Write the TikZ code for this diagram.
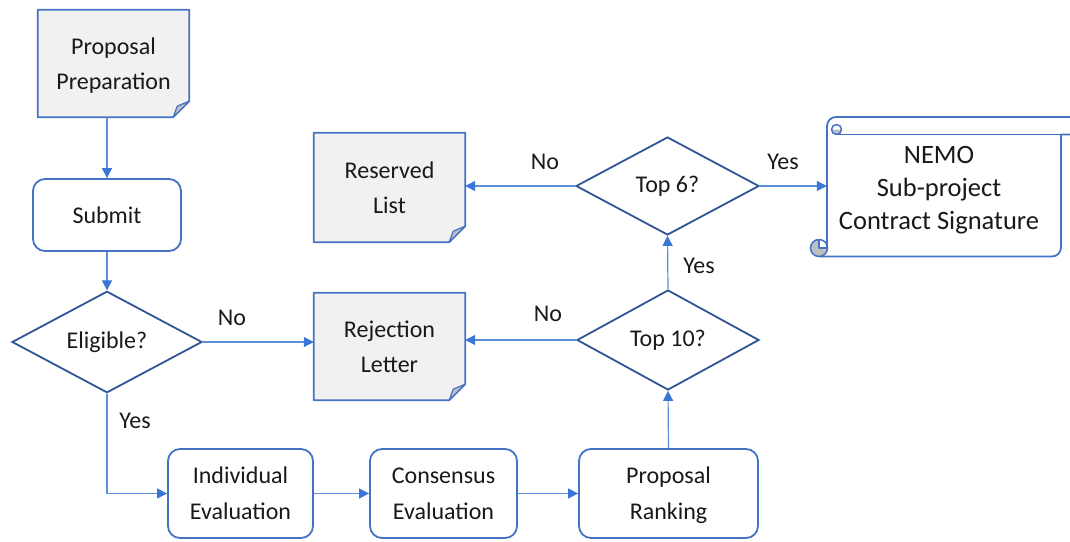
\documentclass[tikz,border=0pt]{standalone}
\usepackage{fontspec}
\setmainfont{Carlito}
\usetikzlibrary{shapes.geometric,arrows.meta}
\pgfdeclarelayer{background}
\pgfsetlayers{background,main}
\definecolor{docline}{HTML}{4472C4}
\definecolor{dialine}{HTML}{2F5597}
\definecolor{connc}{HTML}{5B8EDB}
\definecolor{tipc}{HTML}{3A76D6}
\definecolor{docfill}{HTML}{F1F1F1}
\definecolor{flapc}{HTML}{BFBFBF}
\begin{document}
\begin{tikzpicture}[x=1pt,y=-1pt,
  txt/.style={font=\fontsize{24}{35}\selectfont, align=center, text=black!90},
  twoline/.style={text depth=-2pt},
  lowline/.style={font=\fontsize{24}{36}\selectfont, text depth=-3pt},
  roundbox/.style={txt, draw=docline, line width=1.8pt, rounded corners=12pt, fill=white, inner sep=0pt},
  docbox/.style={txt, inner sep=0pt},
  decision/.style={txt, diamond, draw=dialine, line width=1.8pt, fill=white, inner sep=0pt},
  connector/.style={draw=connc, line width=1.2pt, -{Triangle[length=10pt,width=10pt,color=tipc]}},
  lbl/.style={font=\fontsize{24}{28}\selectfont, text=black!90, inner sep=0pt},
  outline/.style={draw=docline, line width=1.8pt, line join=round}
]
\useasboundingbox (0,0) rectangle (1070,541);

% nodes
\node[docbox, twoline, minimum width=151pt, minimum height=107pt] (prep) at (113.5,63.5) {Proposal\\Preparation};
\node[roundbox, minimum width=148pt, minimum height=72pt] (submit) at (107,215) {Submit};
\node[decision, minimum width=190pt, minimum height=93pt] (elig) at (107,342) {Eligible?};
\node[docbox, twoline, minimum width=151pt, minimum height=109pt] (reserved) at (389.5,187.5) {Reserved\\List};
\node[docbox, twoline, minimum width=151pt, minimum height=107pt] (reject) at (389.5,346.5) {Rejection\\Letter};
\node[decision, minimum width=183pt, minimum height=98pt] (top6) at (667.5,186) {Top 6?};
\node[decision, minimum width=182pt, minimum height=100pt] (top10) at (668,340) {Top 10?};
\node[roundbox, lowline, minimum width=145pt, minimum height=89pt] (indiv) at (240.5,493.5) {Individual\\Evaluation};
\node[roundbox, lowline, minimum width=147pt, minimum height=89pt] (cons) at (443.5,493.5) {Consensus\\Evaluation};
\node[roundbox, lowline, minimum width=179pt, minimum height=89pt] (rank) at (668.5,493.5) {Proposal\\Ranking};
\node[minimum width=234pt, minimum height=122pt, inner sep=0pt] (nemobody) at (944,195.5) {};
\node[txt, font=\fontsize{26.5}{33}\selectfont] (nemotext) at (939,190) {NEMO\\Sub-project\\Contract Signature};

% document shapes
\begin{pgfonlayer}{background}
\foreach \n in {prep,reserved,reject}{
  \path[outline, fill=docfill]
    (\n.north west) -- (\n.north east) -- ([yshift=16pt]\n.south east)
    -- ([xshift=-16pt]\n.south east) -- (\n.south west) -- cycle;
  \path[draw=docline, line width=1.2pt, fill=flapc, line join=round]
    ([yshift=16pt]\n.south east) -- ([xshift=-12pt,yshift=11pt]\n.south east)
    -- ([xshift=-16pt]\n.south east) -- cycle;
}
% scroll
\path[outline, fill=white]
  (1075,117) -- (836,117) arc[start angle=90, end angle=180, radius=9pt]
  -- (827,248) -- (819,248) -- (819,256.5) -- (1052,256.5)
  arc[start angle=270, end angle=360, radius=9pt] -- (1061,134.5) -- (1075,134.5) -- cycle;
\fill[flapc] (819,248) circle[radius=8.5pt];
\fill[white] (819,248) -- (827.5,248) arc[start angle=0, end angle=90, radius=8.5pt] -- cycle;
\draw[outline, line width=1.5pt] (819,248) circle[radius=8.5pt];
\draw[outline, line width=1.5pt] (827.5,248) -- (819,248) -- (819,239.5);
\draw[outline] (827,126) -- (827,248);
\fill[flapc] (831.5,129.5) arc[start angle=180, end angle=360, radius=5pt] -- cycle;
\draw[outline, line width=1.5pt] (836.5,129.5) circle[radius=5pt];
\draw[outline] (836.5,134.5) -- (1075,134.5);
\end{pgfonlayer}

% connectors
\draw[connector] (prep.south -| submit.north) -- (submit.north);
\draw[connector] (submit.south) -- (elig.north);
\draw[connector] (elig.east) -- (elig.east -| reject.west);
\draw[connector] (elig.south) |- (indiv.west);
\draw[connector] (indiv.east) -- (cons.west);
\draw[connector] (cons.east) -- (rank.west);
\draw[connector] (rank.north) -- (top10.south);
\draw[connector] (top10.west) -- (top10.west -| reject.east);
\draw[connector] (top10.north) -- (top6.south);
\draw[connector] (top6.west) -- (top6.west -| reserved.east);
\draw[connector] (top6.east) -- (top6.east -| nemobody.west);

% labels
\node[lbl] (l1) at (232,318) {No};
\node[lbl] (l2) at (135,421) {Yes};
\node[lbl] (l3) at (548,314) {No};
\node[lbl] (l4) at (699,266) {Yes};
\node[lbl] (l5) at (545,162) {No};
\node[lbl] (l6) at (783,162) {Yes};
\end{tikzpicture}
\end{document}
